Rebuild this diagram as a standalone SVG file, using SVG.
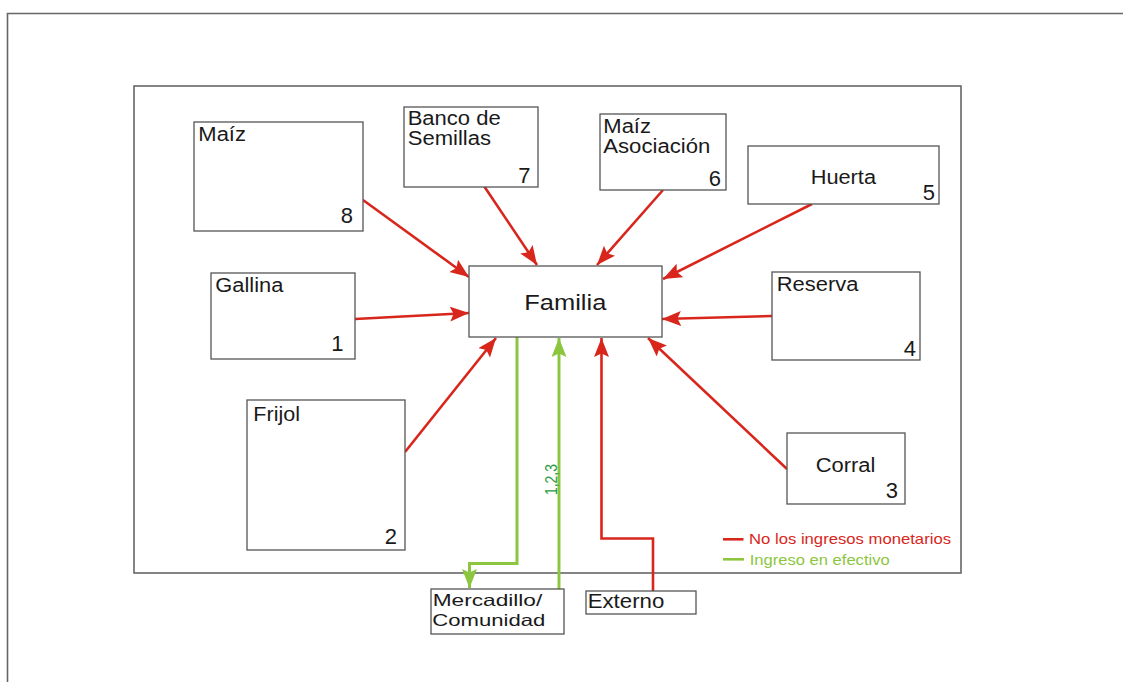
<svg xmlns="http://www.w3.org/2000/svg" width="1123" height="682" viewBox="0 0 1123 682">
  <style>
    .frame { fill: none; stroke: #666; stroke-width: 1.6; }
    .box { fill: #fff; stroke: #555; stroke-width: 1.3; }
    .lbl { font-family: "Liberation Sans", Arial, sans-serif; font-size: 19.5px; fill: #1a1a1a; }
    .big { font-size: 22.5px; }
    .small { font-size: 16.5px; }
    .num { font-family: "Liberation Sans", Arial, sans-serif; font-size: 22px; fill: #1a1a1a; text-anchor: end; }
    .red { fill: none; stroke: #d9261c; stroke-width: 2.6; }
    .green { fill: none; stroke: #8cc63f; stroke-width: 3; }
    .leg { font-family: "Liberation Sans", Arial, sans-serif; font-size: 14.5px; }
  </style>
  <defs>
    <marker id="arrRed" markerUnits="userSpaceOnUse" markerWidth="22" markerHeight="18" refX="19" refY="7.5" orient="auto">
      <path d="M0,0 L19,7.5 L0,15 L3.5,7.5 z" fill="#d9261c"/>
    </marker>
    <marker id="arrGreen" markerUnits="userSpaceOnUse" markerWidth="22" markerHeight="18" refX="19" refY="7.5" orient="auto">
      <path d="M0,0 L19,7.5 L0,15 L3.5,7.5 z" fill="#8cc63f"/>
    </marker>
  </defs>

  <rect width="1123" height="682" fill="#fff"/>

  <!-- page border and system boundary -->
  <path class="frame" d="M7.5,682 V13.5 H1123"/>
  <rect class="frame" x="134" y="86" width="827" height="487"/>

  <!-- flows -->
  <g id="connectors">
    <line class="red" x1="363" y1="200" x2="469" y2="277" marker-end="url(#arrRed)"/>
    <line class="red" x1="484" y1="186" x2="537" y2="265" marker-end="url(#arrRed)"/>
    <line class="red" x1="663" y1="190" x2="597" y2="265" marker-end="url(#arrRed)"/>
    <line class="red" x1="812" y1="204" x2="663" y2="279" marker-end="url(#arrRed)"/>
    <line class="red" x1="355" y1="319" x2="469" y2="313" marker-end="url(#arrRed)"/>
    <line class="red" x1="405" y1="452" x2="496" y2="338" marker-end="url(#arrRed)"/>
    <line class="red" x1="772" y1="316" x2="662" y2="319" marker-end="url(#arrRed)"/>
    <line class="red" x1="787" y1="469" x2="648" y2="338" marker-end="url(#arrRed)"/>
    <path class="red" d="M653,591 V538.5 H601.5 V338" marker-end="url(#arrRed)"/>
    <path class="green" d="M517,337 V563.5 H469.5 V588" marker-end="url(#arrGreen)"/>
    <path class="green" d="M559,589 V338" marker-end="url(#arrGreen)"/>
    <text transform="translate(557,495) rotate(-90)" font-family="Liberation Sans, Arial, sans-serif" font-size="16.5" fill="#2a9a48" textLength="31" lengthAdjust="spacingAndGlyphs">1,2,3</text>
  </g>

  <g id="familia">
    <rect class="box" x="469" y="266" width="193" height="71"/>
    <text class="lbl big" x="524.3" y="310" textLength="82" lengthAdjust="spacingAndGlyphs">Familia</text>
  </g>

  <g id="maiz">
    <rect class="box" x="194" y="122" width="169" height="109"/>
    <text class="lbl" x="198.3" y="141" textLength="47.7" lengthAdjust="spacingAndGlyphs">Maíz</text>
    <text class="num" x="353" y="223.3">8</text>
  </g>

  <g id="banco-semillas">
    <rect class="box" x="404" y="107" width="134" height="80"/>
    <text class="lbl"><tspan x="407.7" y="125" textLength="93" lengthAdjust="spacingAndGlyphs">Banco de</tspan><tspan x="407.7" y="145" textLength="83.3" lengthAdjust="spacingAndGlyphs">Semillas</tspan></text>
    <text class="num" x="530.5" y="183.3">7</text>
  </g>

  <g id="maiz-asociacion">
    <rect class="box" x="600" y="114" width="126" height="76"/>
    <text class="lbl"><tspan x="603.3" y="132.7" textLength="47.7" lengthAdjust="spacingAndGlyphs">Maíz</tspan><tspan x="603.3" y="152.7" textLength="107" lengthAdjust="spacingAndGlyphs">Asociación</tspan></text>
    <text class="num" x="721" y="186">6</text>
  </g>

  <g id="huerta">
    <rect class="box" x="748" y="146" width="191" height="58"/>
    <text class="lbl" x="810.7" y="184.3" textLength="65.3" lengthAdjust="spacingAndGlyphs">Huerta</text>
    <text class="num" x="935" y="200">5</text>
  </g>

  <g id="gallina">
    <rect class="box" x="211" y="273" width="144" height="86"/>
    <text class="lbl" x="215.3" y="292.3" textLength="68" lengthAdjust="spacingAndGlyphs">Gallina</text>
    <text class="num" x="343.5" y="351">1</text>
  </g>

  <g id="frijol">
    <rect class="box" x="247" y="400" width="158" height="150"/>
    <text class="lbl" x="253.3" y="420.7" textLength="46.7" lengthAdjust="spacingAndGlyphs">Frijol</text>
    <text class="num" x="397" y="544">2</text>
  </g>

  <g id="reserva">
    <rect class="box" x="772" y="272" width="148" height="88"/>
    <text class="lbl" x="776.7" y="290.7" textLength="81.7" lengthAdjust="spacingAndGlyphs">Reserva</text>
    <text class="num" x="916" y="356">4</text>
  </g>

  <g id="corral">
    <rect class="box" x="787" y="433" width="118" height="71"/>
    <text class="lbl" x="815.7" y="472.3" textLength="59.7" lengthAdjust="spacingAndGlyphs">Corral</text>
    <text class="num" x="898" y="498.3">3</text>
  </g>

  <g id="mercadillo">
    <rect class="box" x="431" y="589" width="133" height="45"/>
    <text class="lbl small"><tspan x="432.7" y="606" textLength="109.6" lengthAdjust="spacingAndGlyphs">Mercadillo/</tspan><tspan x="432.3" y="625.5" textLength="113" lengthAdjust="spacingAndGlyphs">Comunidad</tspan></text>
  </g>

  <g id="externo">
    <rect class="box" x="586" y="591" width="110" height="23"/>
    <text class="lbl" x="587.7" y="607.7" textLength="76.6" lengthAdjust="spacingAndGlyphs">Externo</text>
  </g>

  <!-- legend -->
  <g id="legend">
    <line x1="723" y1="539.3" x2="743.5" y2="539.3" stroke="#d9261c" stroke-width="2.6"/>
    <text class="leg" x="749" y="544.3" fill="#d9261c" textLength="202" lengthAdjust="spacingAndGlyphs">No los ingresos monetarios</text>
    <line x1="723" y1="559.3" x2="744" y2="559.3" stroke="#8cc63f" stroke-width="2.6"/>
    <text class="leg" x="749.7" y="564.5" fill="#8cc63f" textLength="140" lengthAdjust="spacingAndGlyphs">Ingreso en efectivo</text>
  </g>
</svg>
